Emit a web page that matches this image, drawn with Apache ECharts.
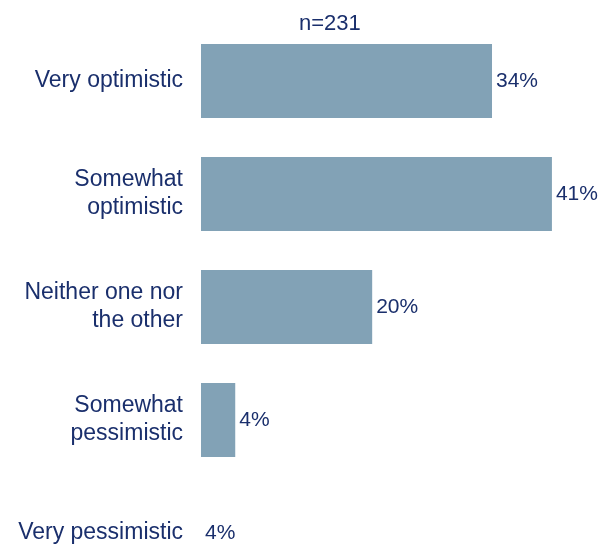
<!DOCTYPE html>
<html>
<head>
<meta charset="utf-8">
<script src="https://cdn.jsdelivr.net/npm/echarts@6/dist/echarts.min.js"></script>
<style>
  html, body { margin: 0; padding: 0; background: #fff; }
  #chart { width: 599px; height: 544px; }
</style>
</head>
<body>
<div id="chart"></div>
<script>
// Survey responses, top to bottom
const categories = [
  'Very optimistic',
  'Somewhat\noptimistic',
  'Neither one nor\nthe other',
  'Somewhat\npessimistic',
  'Very pessimistic'
];
const shares = [34, 41, 20, 4, 4];
const sampleLabel = 'n=231';

const textColor = '#1a2f6c';
const barColor = '#82a2b6';
const fontFamily = 'Liberation Sans, Arial, sans-serif';

const barData = shares.map((v, i) => {
  if (i === categories.length - 1) {
    // last row has no fill; its percentage sits at the start of the row
    return {
      value: v,
      itemStyle: { color: 'rgba(0,0,0,0)' },
      label: { position: 'insideLeft', distance: 4 }
    };
  }
  return v;
});

const chart = echarts.init(document.getElementById('chart'), null, { renderer: 'canvas' });
chart.setOption({
  animation: false,
  backgroundColor: '#ffffff',
  title: {
    text: sampleLabel,
    left: 294,
    top: 8,
    textStyle: { color: textColor, fontSize: 22, fontWeight: 'normal', fontFamily }
  },
  // the plot runs past the lower edge so the last row keeps the same spacing
  grid: {
    left: 201, width: 398, top: 24.5, height: 565,
    containLabel: false,
    outerBoundsMode: 'none'
  },
  xAxis: {
    type: 'value',
    min: 0,
    max: 46.5,
    show: false
  },
  yAxis: {
    type: 'category',
    data: categories,
    inverse: true,
    axisLine: { show: false },
    axisTick: { show: false },
    splitLine: { show: false },
    axisLabel: {
      margin: 18,
      color: textColor,
      fontSize: 23,
      lineHeight: 28,
      fontFamily,
      align: 'right'
    }
  },
  series: [{
    type: 'bar',
    data: barData,
    barWidth: 74,
    itemStyle: { color: barColor },
    label: {
      show: true,
      position: 'right',
      distance: 4,
      color: textColor,
      fontSize: 21,
      fontFamily,
      formatter: p => p.value + '%'
    }
  }]
});
</script>
</body>
</html>
